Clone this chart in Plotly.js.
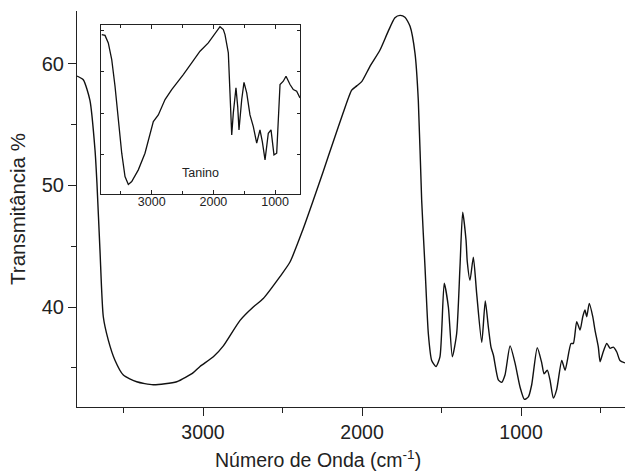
<!DOCTYPE html>
<html>
<head>
<meta charset="utf-8">
<script src="https://cdn.plot.ly/plotly-3.0.1.min.js"></script>
<style>
html,body{margin:0;padding:0;overflow:hidden;background:#fff;}
#chart{width:628px;height:473px;}
</style>
</head>
<body>
<div id="chart"></div>
<script>
// Main spectrum (Tanino) - wavenumber (cm-1) and transmittance (%)
var wavenumber = [3792,3753,3711,3679,3667,3648,3627,3596,3553,3501,3417,3313,3165,3061,3019,2935,2872,2767,2684,2621,2516,2453,2371,2306,2243,2181,2118,2065,2033,2002,1950,1887,1835,1793,1761,1730,1698,1667,1646,1625,1604,1583,1562,1535,1510,1483,1457,1432,1405,1384,1367,1346,1338,1321,1300,1279,1247,1225,1206,1189,1174,1143,1122,1101,1069,1038,1006,979,954,933,898,870,855,835,818,797,776,744,723,686,671,650,629,612,598,587,571,549,535,514,503,486,461,440,420,398,378,346];
var transmittance = [59.0,58.7,57.0,52.9,50.2,44.7,39.2,37.3,35.6,34.4,33.85,33.6,33.85,34.6,35.1,35.9,36.8,38.9,40.0,40.7,42.5,43.7,46.4,48.8,51.2,53.6,56.0,57.85,58.2,58.55,59.8,61.15,62.7,63.8,64.0,63.85,63.1,60.9,57.0,48.8,43.3,37.8,35.6,35.1,35.9,41.95,40.0,35.9,37.8,43.3,47.8,45.5,43.7,42.2,44.1,41.1,37.1,40.5,38.4,36.7,36.05,34.0,33.8,34.4,36.8,35.4,33.4,32.4,32.6,33.6,36.65,35.4,34.5,34.8,34.0,32.5,33.2,35.6,34.8,37.0,37.0,38.8,38.1,39.2,39.75,39.2,40.3,39.2,38.1,36.7,35.5,36.2,37.0,36.6,36.7,36.3,35.6,35.4];

// Inset spectrum
var insetWavenumber = [3810,3757,3704,3648,3595,3541,3486,3433,3379,3324,3217,3109,3028,2974,2893,2784,2676,2569,2488,2352,2217,2083,1974,1893,1839,1812,1758,1719,1703,1677,1634,1606,1585,1541,1504,1460,1407,1353,1298,1245,1207,1163,1110,1066,1018,974,920,867,823,758,705,650,596];
var insetSignal = [38.9,38.7,36.9,32.9,26.5,18.4,10.4,4.8,2.9,3.6,6.4,10.4,14.8,18.0,19.6,23.3,25.7,27.7,29.3,32.1,34.9,36.9,39.3,40.8,40.1,38.9,34.5,18.4,14.8,20.1,26.1,21.6,16.0,23.3,27.4,24.9,19.6,16.8,12.8,16.0,13.2,8.8,15.2,16.0,10.0,10.4,26.9,27.7,28.9,26.9,25.7,25.3,23.7];

var xTicks = [3000,2000,1000];
var xTickText = ['3000','2000','1000'];
var yTicks = [40,50,60];
var insetLabel = 'Tanino';
var xTitle = 'Número de Onda (cm<sup>-1</sup>)';
var yTitle = 'Transmitância %';

var ink = '#222';
var fontFam = 'Arial, "Liberation Sans", Helvetica, sans-serif';

var traces = [
  {x: wavenumber, y: transmittance, type: 'scatter', mode: 'lines',
   line: {color: '#111', width: 1.4, shape: 'spline', smoothing: 0.6},
   xaxis: 'x', yaxis: 'y', hoverinfo: 'skip'},
  {x: insetWavenumber, y: insetSignal, type: 'scatter', mode: 'lines',
   line: {color: '#111', width: 1.3},
   xaxis: 'x3', yaxis: 'y3', hoverinfo: 'skip'}
];

var layout = {
  width: 628, height: 473,
  margin: {l: 77, r: 2, t: 11, b: 66},
  paper_bgcolor: '#fff', plot_bgcolor: '#fff',
  showlegend: false,
  font: {family: fontFam, color: ink, size: 19},
  xaxis: {
    range: [3792.4, 340], showgrid: false, zeroline: false,
    showline: true, linecolor: ink, linewidth: 1,
    ticks: 'outside', ticklen: 8, tickwidth: 1, tickcolor: ink,
    tickvals: xTicks, ticktext: xTickText,
    tickfont: {size: 19.5, color: ink},
    minor: {ticks: 'outside', ticklen: 5, tickwidth: 1, tickcolor: ink, dtick: 500, tick0: 0, showgrid: false}
  },
  yaxis: {
    range: [31.77, 64.36], showgrid: false, zeroline: false,
    showline: true, linecolor: ink, linewidth: 1,
    ticks: 'outside', ticklen: 8, tickwidth: 1, tickcolor: ink,
    tickvals: yTicks, tickfont: {size: 20, color: ink},
    minor: {ticks: 'outside', ticklen: 5, tickwidth: 1, tickcolor: ink, dtick: 5, tick0: 0, showgrid: false},
    title: {text: yTitle, font: {size: 20.5, color: ink}, standoff: 10}
  },
  xaxis2: {
    overlaying: 'x', side: 'top', range: [3798, 606.4],
    showgrid: false, zeroline: false, showline: true, linecolor: ink, linewidth: 1,
    ticks: 'inside', ticklen: 5, tickwidth: 1, tickcolor: ink,
    tickvals: [3000,2000,1000], showticklabels: false,
    minor: {ticks: 'inside', ticklen: 3, tickwidth: 1, tickcolor: ink, dtick: 500, tick0: 0, showgrid: false}
  },
  yaxis2: {
    overlaying: 'y', side: 'right', range: [31.77, 64.36],
    showgrid: false, zeroline: false, showline: true, linecolor: ink, linewidth: 1,
    ticks: 'inside', ticklen: 5, tickwidth: 1, tickcolor: ink,
    tickvals: [35,40,45,50,55,60], showticklabels: false
  },
  xaxis3: {
    domain: [0.0432, 0.4062], anchor: 'y3', range: [3826.7, 596.1],
    showgrid: false, zeroline: false, showline: true, mirror: 'allticks', linecolor: ink, linewidth: 1,
    ticks: 'inside', ticklen: 4, tickwidth: 1, tickcolor: ink,
    tickvals: xTicks, ticktext: xTickText, tickfont: {size: 12.5, color: ink},
    ticklabelstandoff: -4,
    minor: {ticks: 'inside', ticklen: 3, tickwidth: 1, tickcolor: ink, dtick: 500, tick0: 0, showgrid: false}
  },
  yaxis3: {
    domain: [0.5379, 0.9646], anchor: 'x3', range: [0.6, 41.2],
    showgrid: false, zeroline: false, showline: true, mirror: 'allticks', linecolor: ink, linewidth: 1,
    ticks: 'inside', ticklen: 3, tickwidth: 1, tickcolor: ink,
    tickvals: [10,20,30,40], showticklabels: false
  },
  annotations: [
    {text: insetLabel, xref: 'x3', yref: 'y3', x: 2209, y: 5.73, showarrow: false,
     font: {size: 12.5, color: ink, family: fontFam}, xanchor: 'center', yanchor: 'middle'},
    {text: xTitle, xref: 'paper', yref: 'paper', x: (318 - 77) / 549, y: -(459 - 407) / 396,
     showarrow: false, font: {size: 19.5, color: ink, family: fontFam}, xanchor: 'center', yanchor: 'middle'}
  ]
};

Plotly.newPlot('chart', traces, layout, {displayModeBar: false, staticPlot: true});
</script>
</body>
</html>
